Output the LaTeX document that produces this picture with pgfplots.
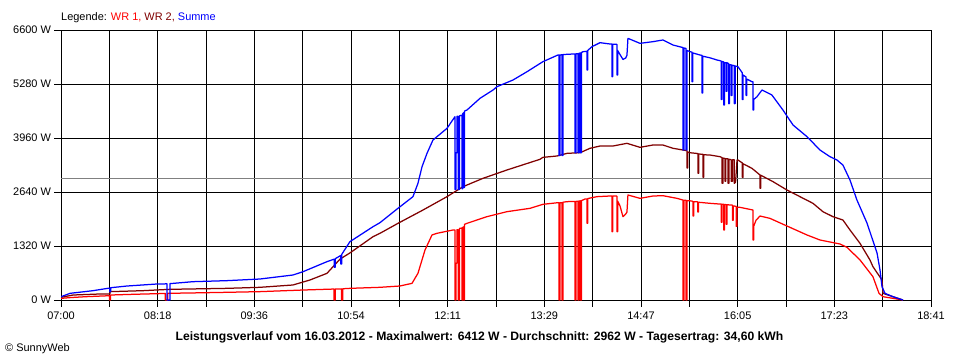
\documentclass[border=0pt]{standalone}
\usepackage{fontspec}
\setmainfont{Liberation Sans}
\usepackage{pgfplots}
\pgfplotsset{compat=1.18}
\definecolor{wrA}{RGB}{255,0,0}
\definecolor{wrB}{RGB}{128,0,0}
\definecolor{sumC}{RGB}{0,0,255}
\definecolor{avgG}{RGB}{128,128,128}
\begin{document}
\begin{tikzpicture}[x=1bp,y=1bp]
\useasboundingbox[fill=white] (0,0) rectangle (960,360);
\begin{axis}[
  at={(61bp,60bp)}, anchor=south west,
  scale only axis, width=870bp, height=270bp,
  xmin=0, xmax=701, ymin=0, ymax=6600,
  axis line style={black, line width=1bp},
  grid=major, grid style={black, line width=1bp},
  tick align=outside, major tick length=6.5bp,
  tick style={black, line width=1bp},
  xtick pos=bottom, ytick pos=left,
  xtick={0,38.944,77.889,116.833,155.778,194.722,233.667,272.611,311.556,350.5,389.444,428.389,467.333,506.278,545.222,584.167,623.111,662.056,701},
  xticklabels={07:00,,08:18,,09:36,,10:54,,12:11,,13:29,,14:47,,16:05,,17:23,,18:41},
  ytick={0,1320,2640,3960,5280,6600},
  yticklabels={0 W,1320 W,2640 W,3960 W,5280 W,6600 W},
  tick label style={font=\fontsize{11}{13}\selectfont, text=black},
  xticklabel style={yshift=-2bp},
  every axis plot/.append style={line width=1.25bp, line join=round},
  clip=true,
]
\addplot[avgG, line width=1bp, forget plot] coordinates {(0,2962)(701,2962)};
% WR 1
\addplot[wrA] coordinates {(0,40)(8,60)(20,81)(39,105)(39,0)(39.8,0)(39.8,122)(58,139)(84,160)(84,0)(86,0)(86,163)(110,175)(133.7,188)(160,204)(195,244)(220,268)(220,0)(221,0)(221,270)(226,272)(226,0)(227,0)(227,275)(232.8,285)(257,310)(273,342)(282.8,407)(287.6,652)(293.3,1222)(298.9,1589)(302.9,1630)(315.8,1711)(317.4,1711)(317.4,0)(318.2,0)(318.2,900)(319,900)(319,1720)(320,1720)(320,0)(321,0)(321,1750)(323,1760)(323,0)(323.8,0)(323.8,1780)(324.6,1790)(324.6,0)(325.2,0)(325.2,1850)(327.1,1874)(343.2,2037)(359.3,2159)(377.9,2241)(388.3,2339)(400.4,2379)(401.2,2379)(401.2,0)(402,0)(402,2380)(403.7,2380)(403.7,0)(404.4,0)(404.4,2390)(407.7,2404)(414.1,2410)(414.1,0)(414.9,0)(414.9,2410)(416.5,2415)(416.5,0)(417.3,0)(417.3,2420)(418.5,2425)(418.5,0)(419.3,0)(419.3,2428)(422.2,2469)(423.8,2470)(423.8,1874)(424.4,1874)(424.4,2480)(431.8,2526)(442.3,2542)(443.9,2542)(443.9,1670)(444.5,1670)(444.5,2540)(447.9,2540)(447.9,1670)(448.5,1670)(448.5,2420)(450.4,2300)(452.8,2037)(455,2100)(456,2150)(456.8,2567)(466.5,2485)(477,2542)(485,2550)(496.3,2485)(501.1,2444)(501.1,0)(501.9,0)(501.9,2440)(503.6,2440)(503.6,0)(504.4,0)(504.4,2430)(508.4,2420)(509.2,2404)(509.2,2053)(509.8,2053)(509.8,2400)(513,2400)(513,2150)(513.6,2150)(513.6,2390)(522.9,2363)(531,2345)(532,2345)(532,1900)(532.6,1900)(532.6,2340)(534,2340)(534,1711)(534.6,1711)(534.6,2335)(536,2330)(536,1850)(536.6,1850)(536.6,2330)(539,2322)(541,2320)(541,1950)(541.6,1950)(541.6,2300)(544,2290)(544,1800)(544.6,1800)(544.6,2270)(547.1,2265)(557.5,2200)(557.5,1467)(558.1,1467)(558.1,1800)(560,1950)(563.2,2053)(571.2,1996)(584.9,1809)(601.1,1589)(611.5,1467)(627.6,1369)(633.3,1288)(643.8,978)(654.2,570)(659.1,163)(662.3,81)(670.3,41)(678.4,0)};
% WR 2
\addplot[wrB] coordinates {(0,65)(9.7,122)(31.4,147)(39.5,150)(39.5,204)(66,228)(87.8,261)(133.7,285)(160.3,310)(186.9,367)(200.6,489)(214.3,652)(224.8,1000)(232.8,1150)(251.4,1548)(257,1630)(271.5,1874)(291.7,2200)(311,2526)(323.9,2770)(340,2974)(359.3,3178)(385.9,3439)(388.3,3487)(399.6,3520)(407.7,3585)(418.2,3600)(426.2,3708)(434.3,3764)(444.7,3764)(456,3830)(466.5,3732)(477,3789)(485,3789)(493.1,3708)(501.1,3667)(504.4,3650)(504.4,3227)(505,3227)(505,3620)(506.8,3600)(513.2,3580)(513.2,3097)(513.8,3097)(513.8,3570)(517.3,3560)(517.3,3000)(517.9,3000)(517.9,3550)(522.9,3544)(531,3503)(532.6,3480)(532.6,2852)(533.4,2852)(533.4,3470)(535,3460)(535,2900)(535.6,2900)(535.6,3450)(537.5,3450)(537.5,2852)(538.2,2852)(538.2,3440)(540,3430)(540,2900)(541,2900)(541,3430)(542.5,3430)(542.5,2852)(543.5,2880)(544.7,3420)(545.4,3422)(549,3350)(549,3000)(549.6,3000)(549.6,3330)(556.7,3219)(563.2,3056)(563.2,2730)(563.8,2730)(563.8,3050)(573.7,2893)(584.9,2689)(595.4,2526)(605.9,2363)(613.9,2159)(622,2037)(630,1956)(635.7,1711)(643.8,1385)(651.8,978)(654.2,815)(661.5,489)(662.3,163)(670.3,81)(678.4,0)};
% Summe
\addplot[sumC] coordinates {(0,80)(7.3,163)(25.8,228)(37.9,286)(39.3,286)(39.3,200)(40,200)(40,300)(53.2,342)(77.3,391)(85.4,395)(85.4,0)(87.8,0)(87.8,400)(106.4,448)(133.7,473)(160.3,513)(186.9,611)(195,692)(214.3,937)(220.2,1000)(220.2,800)(221,800)(221,1010)(225.5,1090)(225.5,880)(226.3,880)(226.3,1120)(232.8,1426)(251.4,1792)(257,1890)(271.5,2241)(283.6,2526)(287.6,2852)(290.9,3259)(294.9,3585)(299.7,3911)(311,4196)(317.4,4481)(317.4,2700)(318.2,2700)(318.2,3600)(319,3600)(319,4490)(320,4490)(320,2700)(321,2700)(321,4500)(323,4520)(323,2720)(323.8,2720)(323.8,4560)(324.6,4580)(324.6,2750)(325.2,2750)(325.2,4620)(327.1,4644)(337.6,4930)(348.1,5133)(351.3,5215)(364.2,5378)(375.5,5581)(388.3,5826)(400.4,5989)(401.2,5990)(401.2,3530)(402,3530)(402,5990)(403.7,5995)(403.7,3530)(404.4,3530)(404.4,6000)(412.5,6013)(414.1,6015)(414.1,3600)(414.9,3600)(414.9,6020)(416.5,6020)(416.5,3600)(417.3,3600)(417.3,6030)(418.5,6040)(418.5,3600)(419.3,3600)(419.3,6050)(420.6,6070)(423.8,6080)(423.8,5622)(424.4,5622)(424.4,6100)(427.8,6192)(434.3,6290)(442.3,6258)(443.9,6258)(443.9,5459)(444.5,5459)(444.5,6250)(447.9,6250)(447.9,5500)(448.5,5500)(448.5,6100)(450.4,6000)(452.8,5880)(455,5916)(456,5980)(456.8,6396)(466.5,6274)(477,6315)(485,6356)(493.1,6233)(500.3,6177)(501.1,6170)(501.1,3667)(501.9,3667)(501.9,6160)(503.6,6150)(503.6,3667)(504.4,3667)(504.4,6100)(506.8,6070)(508.4,6060)(508.4,5337)(509,5337)(509,6040)(514.8,5989)(516.5,5980)(516.5,5060)(517.1,5060)(517.1,5960)(522.9,5920)(528.5,5867)(531,5850)(532,5840)(532,4900)(532.6,4900)(532.6,5830)(534,5820)(534,4767)(534.6,4767)(534.6,5800)(536,5800)(536,5100)(536.6,5100)(536.6,5800)(538,5780)(538,4800)(538.6,4800)(538.6,5750)(540,5750)(540,5000)(540.6,5000)(540.6,5740)(542.5,5730)(542.5,4800)(543.2,4800)(543.2,5720)(544.7,5710)(545.4,5704)(549,5550)(549,4900)(549.6,4900)(549.6,5500)(552,5450)(552,5000)(552.6,5000)(552.6,5400)(556.7,5337)(557.5,5337)(557.5,4644)(558.1,4644)(558.1,4900)(560.8,4970)(564.8,5133)(572.8,5011)(581.7,4644)(589.8,4278)(601.1,3992)(611.5,3667)(619.6,3503)(625.2,3422)(630,3300)(635.7,2933)(641.3,2444)(649.4,1882)(657.5,1149)(659.9,733)(661.5,326)(663.9,163)(670.3,81)(678.4,0)};
\end{axis}
\node[anchor=west, inner sep=0pt, font=\fontsize{11}{13}\selectfont] at (61,342) {Legende: \textcolor{wrA}{WR 1,} \textcolor{wrB}{WR 2,} \textcolor{sumC}{Summe}};
\node[inner sep=0pt, font=\fontsize{12.2}{14}\selectfont\bfseries] at (479.5,22.5) {Leistungsverlauf vom 16.03.2012 - Maximalwert: 6412 W - Durchschnitt: 2962 W - Tagesertrag: 34,60 kWh};
\node[anchor=west, inner sep=0pt, font=\fontsize{11}{13}\selectfont] at (5,11.5) {\textcopyright\ SunnyWeb};
\end{tikzpicture}
\end{document}
